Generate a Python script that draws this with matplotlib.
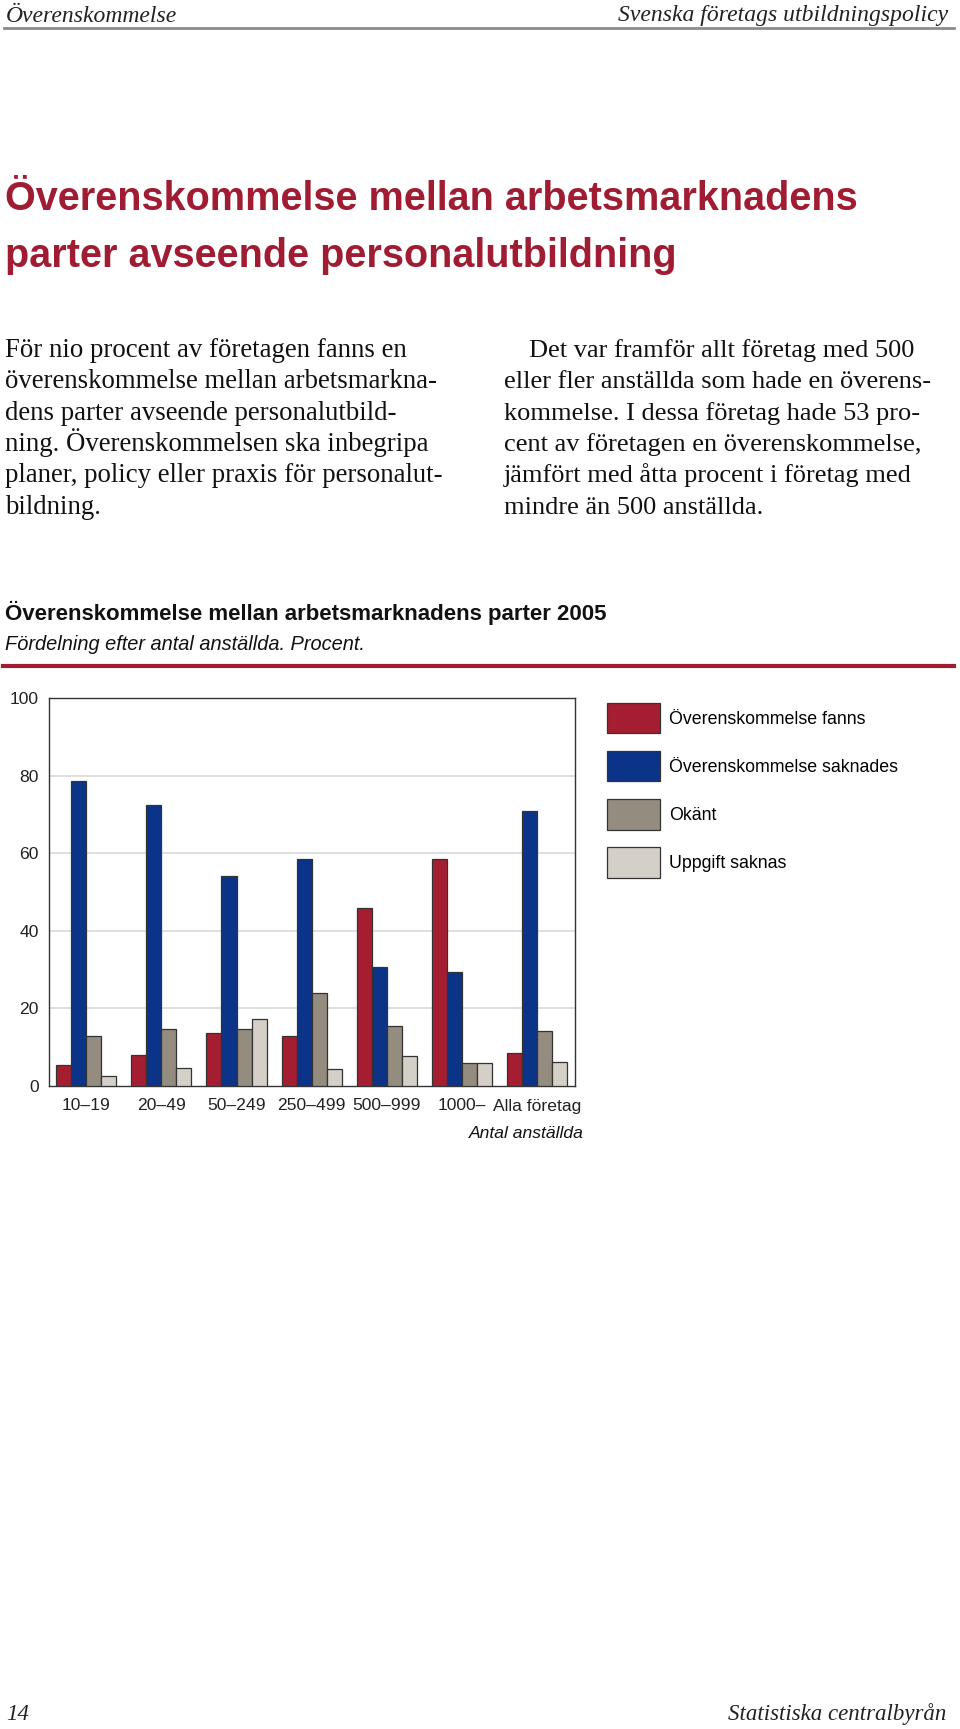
import numpy as np
import matplotlib
matplotlib.use('Agg')
import matplotlib.pyplot as plt
from matplotlib.lines import Line2D

# %% Data
groups = ['10\u201319', '20\u201349', '50\u2013249', '250\u2013499', '500\u2013999', '1000\u2013', 'Alla f\u00f6retag']
fanns = [5.3, 8.0, 13.7, 13.0, 45.9, 58.4, 8.5]
saknades = [78.7, 72.4, 54.2, 58.4, 30.7, 29.4, 70.8]
okant = [13.0, 14.7, 14.7, 23.9, 15.4, 5.9, 14.2]
uppgift_saknas = [2.7, 4.7, 17.2, 4.4, 7.7, 5.9, 6.1]
series_names = ['\u00d6verenskommelse fanns', '\u00d6verenskommelse saknades', 'Ok\u00e4nt', 'Uppgift saknas']
yticks = [0, 20, 40, 60, 80, 100]

left_par = ['F\u00f6r nio procent av f\u00f6retagen fanns en',
            '\u00f6verenskommelse mellan arbetsmarkna-',
            'dens parter avseende personalutbild-',
            'ning. \u00d6verenskommelsen ska inbegripa',
            'planer, policy eller praxis f\u00f6r personalut-',
            'bildning.']
right_par = ['Det var framf\u00f6r allt f\u00f6retag med 500',
             'eller fler anst\u00e4llda som hade en \u00f6verens-',
             'kommelse. I dessa f\u00f6retag hade 53 pro-',
             'cent av f\u00f6retagen en \u00f6verenskommelse,',
             'j\u00e4mf\u00f6rt med \u00e5tta procent i f\u00f6retag med',
             'mindre \u00e4n 500 anst\u00e4llda.']

# %% Style
RED = '#a01c32'
colors = ['#a51d31', '#0b3388', '#958c80', '#d4cfc7']
W, H = 960, 1729
sans = ['Liberation Sans', 'DejaVu Sans']
serif = ['Liberation Serif', 'DejaVu Serif']

fig = plt.figure(figsize=(W / 100, H / 100), dpi=100)

def fx(x):
    return x / W

def fy(y):
    return 1 - y / H

# header
fig.text(fx(6), fy(16), '\u00d6verenskommelse', family=serif, style='italic',
         fontsize=17, va='center', ha='left', color='#222222')
fig.text(fx(948), fy(16), 'Svenska f\u00f6retags utbildningspolicy', family=serif,
         style='italic', fontsize=17, va='center', ha='right', color='#222222')
fig.add_artist(Line2D([fx(4), fx(954)], [fy(28), fy(28)], color='#8c8c8c', lw=2))

# title
fig.text(fx(5), fy(199), '\u00d6verenskommelse mellan arbetsmarknadens', family=sans,
         weight='bold', fontsize=28.5, color=RED, va='center', ha='left')
fig.text(fx(5), fy(256), 'parter avseende personalutbildning', family=sans,
         weight='bold', fontsize=28.5, color=RED, va='center', ha='left')

# paragraphs
for i, line in enumerate(left_par):
    fig.text(fx(5), fy(357 + 31.3 * i), line, family=serif, fontsize=19.3,
             va='baseline', ha='left', color='#111111')
for i, line in enumerate(right_par):
    x0 = 529 if i == 0 else 504
    fig.text(fx(x0), fy(357 + 31.3 * i), line, family=serif, fontsize=19,
             va='baseline', ha='left', color='#111111')

# chart heading
fig.text(fx(5), fy(613), '\u00d6verenskommelse mellan arbetsmarknadens parter 2005',
         family=sans, weight='bold', fontsize=16, va='center', ha='left', color='#111111')
fig.text(fx(5), fy(645), 'F\u00f6rdelning efter antal anst\u00e4llda. Procent.',
         family=sans, style='italic', fontsize=14.4, va='center', ha='left', color='#111111')
fig.add_artist(Line2D([fx(3), fx(954)], [fy(666), fy(666)], color=RED, lw=3))

# %% Chart
ax = fig.add_axes([fx(48.5), fy(1086), fx(575 - 48.5), (1086 - 698) / H])
x = np.arange(len(groups))
bw = 0.2
bars = []
for k, vals in enumerate([fanns, saknades, okant, uppgift_saknas]):
    b = ax.bar(x + (k - 1.5) * bw, vals, bw, color=colors[k], edgecolor='#333333',
               linewidth=0.9, label=series_names[k], zorder=3)
    bars.append(b)

ax.set_xlim(-0.5, len(groups) - 0.5)
ax.set_ylim(0, 100)
ax.set_yticks(yticks)
ax.set_xticks(x)
ax.set_xticklabels(groups, family=sans, fontsize=12.6)
ax.set_yticklabels([str(t) for t in yticks], family=sans, fontsize=12.6)
ax.tick_params(axis='both', length=0, colors='#222222')
ax.tick_params(axis='y', pad=7)
ax.tick_params(axis='x', pad=9)
for t in [20, 40, 60, 80]:
    ax.axhline(t, color='#d9d9d9', lw=1.2, zorder=1)
for s in ax.spines.values():
    s.set_color('#333333')
    s.set_linewidth(1.0)

fig.text(fx(584), fy(1133), 'Antal anst\u00e4llda', family=sans, style='italic',
         fontsize=12.6, va='center', ha='right', color='#111111')

fig.legend(handles=bars, labels=series_names, loc='upper left',
           bbox_to_anchor=(fx(607), fy(703)), frameon=False, borderpad=0,
           borderaxespad=0, handlelength=3.0, handleheight=2.25,
           handletextpad=0.5, labelspacing=1.0,
           prop={'family': sans, 'size': 12.8})

# footer
fig.text(fx(6), fy(1714), '14', family=serif, style='italic', fontsize=16.5,
         va='center', ha='left', color='#222222')
fig.text(fx(946), fy(1714), 'Statistiska centralbyr\u00e5n', family=serif, style='italic',
         fontsize=16.5, va='center', ha='right', color='#222222')

fig.savefig('out.png', dpi=100, facecolor='white')
